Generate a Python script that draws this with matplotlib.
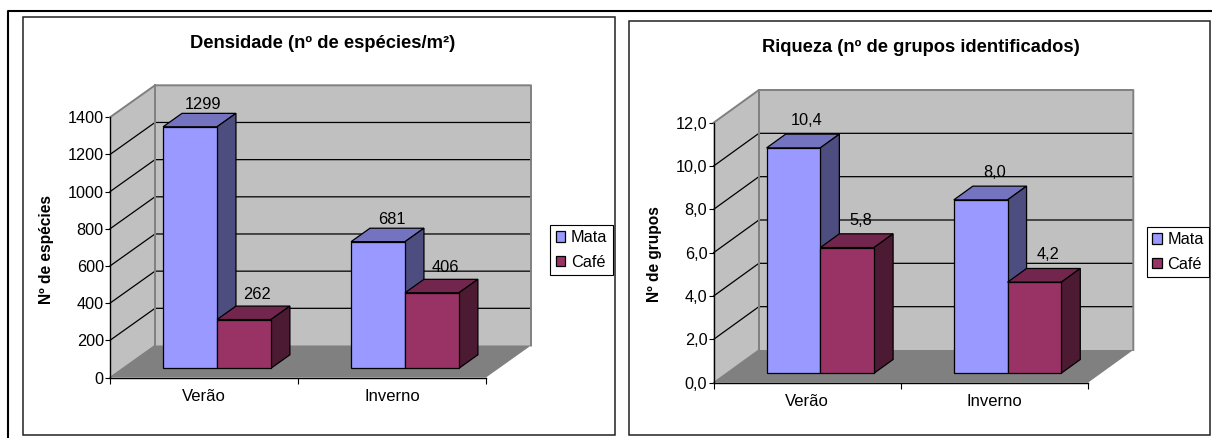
import matplotlib
matplotlib.use('Agg')
import matplotlib.pyplot as plt
from matplotlib.patches import Rectangle, Patch

plt.rcParams['font.family'] = ['Liberation Sans', 'DejaVu Sans']

W, H = 1212, 438

# Data
categories = ['Verão', 'Inverno']
series_names = ['Mata', 'Café']

densidade_mata = [1299, 681]
densidade_cafe = [262, 406]
densidade_ticks = [0, 200, 400, 600, 800, 1000, 1200, 1400]
densidade_tick_labels = ['0', '200', '400', '600', '800', '1000', '1200', '1400']
densidade_mata_labels = ['1299', '681']
densidade_cafe_labels = ['262', '406']

riqueza_mata = [10.4, 8.0]
riqueza_cafe = [5.8, 4.2]
riqueza_ticks = [0, 2, 4, 6, 8, 10, 12]
riqueza_tick_labels = ['0,0', '2,0', '4,0', '6,0', '8,0', '10,0', '12,0']
riqueza_mata_labels = ['10,4', '8,0']
riqueza_cafe_labels = ['5,8', '4,2']

# Excel colours: front, top, side
MATA = ('#9999FF', '#7373BF', '#4D4D80')
CAFE = ('#993366', '#73264D', '#4D1A33')
WALL = '#C0C0C0'
FLOOR = '#808080'
BAR_WIDTH = 0.287


def draw_bar(ax, x, value, dx, dy, colors):
    # front face through bar(), then top and side shifted by the depth
    lw = 0.9
    f0, f1 = 0.29, 0.71
    x0 = x + f0 * dx
    y0 = f0 * dy
    ddx, ddy = (f1 - f0) * dx, (f1 - f0) * dy
    x1 = x0 + BAR_WIDTH
    y1 = y0 + value
    ax.fill([x0, x0 + ddx, x1 + ddx, x1], [y1, y1 + ddy, y1 + ddy, y1],
            facecolor=colors[1], edgecolor='black', lw=lw, zorder=3, clip_on=False)
    ax.fill([x1, x1 + ddx, x1 + ddx, x1], [y0, y0 + ddy, y1 + ddy, y1],
            facecolor=colors[2], edgecolor='black', lw=lw, zorder=3, clip_on=False)
    ax.bar(x0, value, BAR_WIDTH, bottom=y0, align='edge', color=colors[0],
           edgecolor='black', lw=lw, zorder=3, clip_on=False)


def draw_panel(box, depth, mata, cafe, ticks, tick_labels, mata_labels, cafe_labels,
               title, title_pos, ylabel, ylabel_pos, legend_box, label_dy):
    left, right, top, bottom = box
    ax = fig.add_axes([left / W, 1 - bottom / H, (right - left) / W, (bottom - top) / H])
    ymax = ticks[-1]
    ax.set_xlim(0, 2)
    ax.set_ylim(0, ymax)
    ax.patch.set_visible(False)

    # depth of the box in data units
    dx = depth[0] * 2 / (right - left)
    dy = depth[1] * ymax / (bottom - top)

    ax.fill([0, dx, dx, 0], [0, dy, ymax + dy, ymax], facecolor=WALL, edgecolor='none', zorder=1, clip_on=False)
    ax.fill([dx, 2 + dx, 2 + dx, dx], [dy, dy, ymax + dy, ymax + dy], facecolor=WALL, edgecolor='none', zorder=1, clip_on=False)
    ax.fill([0, 2, 2 + dx, dx], [0, 0, dy, dy], facecolor=FLOOR, edgecolor='none', zorder=1, clip_on=False)

    for v in ticks[1:-1]:
        ax.plot([0, dx, 2 + dx], [v, v + dy, v + dy], color='black', lw=0.9, zorder=1.5, clip_on=False)
    ax.plot([0, dx, 2 + dx, 2 + dx], [ymax, ymax + dy, ymax + dy, dy], color=FLOOR, lw=1.4, zorder=1.6, clip_on=False)
    ax.plot([dx, dx], [dy, ymax + dy], color=FLOOR, lw=1.4, zorder=1.6, clip_on=False)
    ax.plot([0, dx], [0, dy], color=FLOOR, lw=1.0, zorder=1.6, clip_on=False)

    for i in range(len(categories)):
        x = i + 0.5
        draw_bar(ax, x - BAR_WIDTH, mata[i], dx, dy, MATA)
        draw_bar(ax, x, cafe[i], dx, dy, CAFE)
        # value labels sit above the back edge of the bar top
        for xb, val, txt, off in [(x - BAR_WIDTH, mata[i], mata_labels[i], label_dy[0]),
                                  (x, cafe[i], cafe_labels[i], label_dy[1])]:
            ax.annotate(txt, (xb + BAR_WIDTH / 2 + 0.71 * dx, val + 0.71 * dy), xytext=(-5.5 * 0.72, off * 0.72),
                        textcoords='offset points', ha='center', va='center', fontsize=11.8, zorder=4,
                        annotation_clip=False)

    for s in ['top', 'right']:
        ax.spines[s].set_visible(False)
    for s in ['left', 'bottom']:
        ax.spines[s].set_linewidth(1.0)
    ax.set_yticks(ticks)
    ax.set_yticklabels(tick_labels, fontsize=11.7)
    ax.set_xticks([0, 1, 2])
    ax.set_xticklabels([])
    ax.set_xticks([0.5, 1.5], minor=True)
    ax.set_xticklabels(categories, minor=True, fontsize=12)
    ax.tick_params(axis='y', length=3.5, width=0.8, pad=1.0)
    ax.tick_params(axis='x', which='major', length=4, width=0.8)
    ax.tick_params(axis='x', which='minor', length=0, pad=8)

    fig.text(title_pos[0] / W, 1 - (title_pos[1] + 1) / H, title, ha='center', va='center',
             fontsize=13.2, fontweight='bold')
    fig.text(ylabel_pos[0] / W, 1 - ylabel_pos[1] / H, ylabel, ha='center', va='center',
             rotation=90, fontsize=11.2, fontweight='bold')

    handles = [Patch(facecolor=MATA[0], edgecolor='black', lw=0.9, label=series_names[0]),
               Patch(facecolor=CAFE[0], edgecolor='black', lw=0.9, label=series_names[1])]
    fig.legend(handles=handles, loc='center left',
               bbox_to_anchor=(legend_box[0] / W, 1 - legend_box[1] / H),
               fancybox=False, framealpha=1, edgecolor='black', fontsize=11.7,
               handlelength=0.58, handleheight=0.6, handletextpad=0.36, labelspacing=0.6,
               borderpad=0.34, borderaxespad=0).get_frame().set_linewidth(0.8)


fig = plt.figure(figsize=(W / 100, H / 100), dpi=100)

# frames around the whole picture and each chart, in pixels
bg = fig.add_axes([0, 0, 1, 1])
bg.set_xlim(0, W)
bg.set_ylim(H, 0)
bg.axis('off')
bg.plot([1212, 7.5, 7.5], [11, 11, 438], color='black', lw=1.5)
bg.add_patch(Rectangle((22.5, 17), 592, 417.5, fill=False, edgecolor='#222222', lw=1.1))
bg.add_patch(Rectangle((629, 21), 581, 413.5, fill=False, edgecolor='#222222', lw=1.1))

draw_panel((110, 486, 117.3, 377.5), (45, 32), densidade_mata, densidade_cafe,
           densidade_ticks, densidade_tick_labels, densidade_mata_labels, densidade_cafe_labels,
           'Densidade (nº de espécies/m²)', (323, 43), 'Nº de espécies', (46.5, 250), (550, 250), (9, 12))
draw_panel((713.6, 1088, 122.7, 382.7), (45.3, 32.7), riqueza_mata, riqueza_cafe,
           riqueza_ticks, riqueza_tick_labels, riqueza_mata_labels, riqueza_cafe_labels,
           'Riqueza (nº de grupos identificados)', (921, 46), 'Nº de grupos', (654.5, 254), (1146.7, 252), (13.5, 13.5))

fig.savefig('out.png', dpi=100)
